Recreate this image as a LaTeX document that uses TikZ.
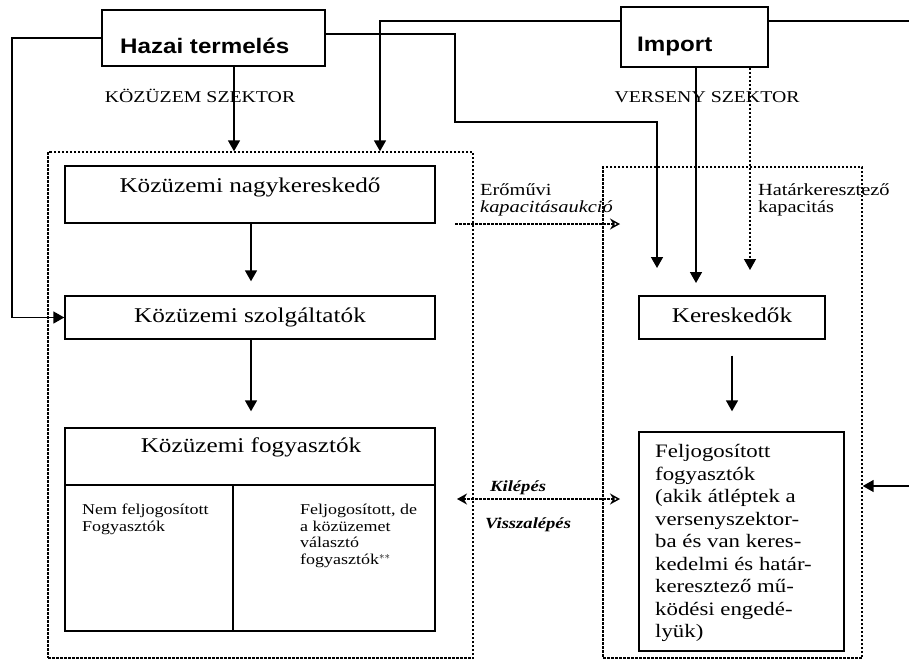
\documentclass[tikz,border=0pt]{standalone}
\usepackage{fontspec}
\setmainfont{Liberation Serif}[FakeStretch=1.2]
\newfontfamily\hsans{Liberation Sans}[FakeStretch=1.15]
\usetikzlibrary{arrows.meta,calc}
\begin{document}
\begin{tikzpicture}[x=1pt,y=-1pt,
  box/.style={draw, line width=1.4pt, inner sep=0pt},
  dbox/.style={draw, line width=1.4pt, dash pattern=on 2.5pt off 1.5pt, inner sep=0pt},
  conn/.style={line width=1.6pt, -{Triangle[width=12pt,length=11pt]}},
  dconn/.style={line width=1.4pt, dash pattern=on 2.5pt off 1.5pt},
  txt/.style={inner sep=0pt, anchor=base west},
  ctxt/.style={inner sep=0pt, anchor=base},
  mtxt/.style={inner sep=0pt, anchor=north west, align=left}]
\useasboundingbox[fill=white] (0,0) rectangle (909,661);
% boxes
\node[box, minimum width=223pt, minimum height=56pt] (hazai) at (213.5,38) {};
\node[box, minimum width=147pt, minimum height=60pt] (import) at (694.5,37) {};
\node[dbox, minimum width=425pt, minimum height=506pt] (kozbox) at (260.5,405) {};
\node[dbox, minimum width=259pt, minimum height=491pt] (versbox) at (732.5,412.5) {};
\node[box, minimum width=370pt, minimum height=57pt] (nagyk) at (250,194.5) {};
\node[box, minimum width=370pt, minimum height=43pt] (szolg) at (250,317.5) {};
\node[box, minimum width=370pt, minimum height=203pt] (fogy) at (250,529.5) {};
\node[box, minimum width=186pt, minimum height=43pt] (keresk) at (732,317.5) {};
\node[box, minimum width=205pt, minimum height=219pt] (felj) at (741.5,541.5) {};
\draw[line width=1.4pt] (fogy.west |- 0,485) -- (fogy.east |- 0,485);
\draw[line width=1.4pt] (233,485) -- (233,485 |- fogy.south);
% texts
\node[txt] (thazai) at (120,53) {\hsans\bfseries\fontsize{21}{24}\selectfont Hazai termelés};
\node[txt] (timport) at (637,52) {\hsans\bfseries\fontsize{21}{24}\selectfont Import};
\node[ctxt] (tkoz) at (200,102) {\fontsize{16.5}{19}\selectfont KÖZÜZEM SZEKTOR};
\node[ctxt] (tvers) at (707,102) {\fontsize{16.5}{19}\selectfont VERSENY SZEKTOR};
\node[ctxt] (tnagyk) at (250,192) {\fontsize{21}{24}\selectfont Közüzemi nagykereskedő};
\node[ctxt] (tszolg) at (250,322) {\fontsize{21}{24}\selectfont Közüzemi szolgáltatók};
\node[ctxt] (tfogy) at (251,452) {\fontsize{21}{24}\selectfont Közüzemi fogyasztók};
\node[ctxt] (tkeresk) at (732,322) {\fontsize{21}{24}\selectfont Kereskedők};
\node[txt] (terom1) at (480,195) {\fontsize{17}{20}\selectfont Erőművi};
\node[txt] (terom2) at (480,212) {\fontsize{17}{20}\selectfont\itshape kapacitásaukció};
\node[txt] (thatar1) at (758,195) {\fontsize{17}{20}\selectfont Határkeresztező};
\node[txt] (thatar2) at (758,212) {\fontsize{17}{20}\selectfont kapacitás};
\node[txt] (tkil) at (490,491) {\fontsize{15.5}{18}\selectfont\bfseries\itshape Kilépés};
\node[txt] (tvissza) at (485,528) {\fontsize{15.5}{18}\selectfont\bfseries\itshape Visszalépés};
\node[mtxt, font=\fontsize{15}{17}\selectfont] (tnem) at (82,503.8) {Nem feljogosított\\Fogyasztók};
\node[mtxt, font=\fontsize{15}{16.7}\selectfont] (tfeljde) at (300,503.8) {Feljogosított, de\\a közüzemet\\választó\\fogyasztók$^{**}$};
\node[mtxt, font=\fontsize{19}{22.5}\selectfont] (tfelj) at (655,444.5) {Feljogosított\\fogyasztók\\(akik átléptek a\\versenyszektor-\\ba és van keres-\\kedelmi és határ-\\keresztező mű-\\ködési engedé-\\lyük)};
% free ends
\coordinate (e1) at (657,268);
\coordinate (e2) at (696,283);
\coordinate (e3) at (750,270);
\coordinate (a1) at (455,224);
\coordinate (a2) at (620,224);
\coordinate (k1) at (457,499);
\coordinate (k2) at (620,499);
% connectors
\draw[conn] (hazai.west) -- (12,38) -- (12,317.5) -- (szolg.west);
\draw[conn] ([yshift=4pt]hazai.east) -- (455,34) -- (455,122) -- (657,122) -- (e1);
\draw[conn] (234,0 |- hazai.south) -- (234,0 |- kozbox.north);
\draw[conn] ([yshift=16pt]import.west) -- (380,21) -- (380,0 |- kozbox.north);
\draw[conn] ([yshift=16pt]import.east) -- (912,21) -- (912,486) -- (versbox.east |- 0,486);
\draw[conn] (696,0 |- import.south) -- (e2);
\draw[dconn, -{Triangle[width=12pt,length=11pt]}] (750,0 |- import.south) -- (e3);
\draw[conn] (251,0 |- nagyk.south) -- ($(szolg.north)+(1pt,14pt)$);
\draw[conn] (251,0 |- szolg.south) -- ($(fogy.north)+(1pt,16pt)$);
\draw[conn] ($(keresk.south)+(0,-16pt)$) -- ($(felj.north)+(-9.5pt,20pt)$);
\draw[dconn, -{Stealth[open,width=11pt,length=10pt]}] (a1) -- (a2);
\draw[dconn, {Stealth[width=11pt,length=10pt]}-{Stealth[open,width=11pt,length=10pt]}] (k1) -- (k2);
\end{tikzpicture}
\end{document}
